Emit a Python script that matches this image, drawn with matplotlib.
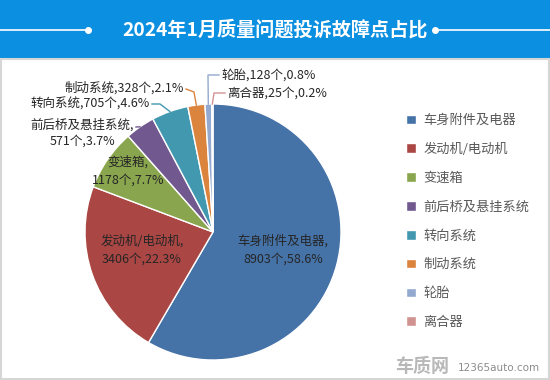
import matplotlib
matplotlib.use("Agg")
import matplotlib.pyplot as plt
from matplotlib.patches import Rectangle
import numpy as np

plt.rcParams['font.family'] = ['Noto Sans CJK SC', 'DejaVu Sans']

# data
categories = ["车身附件及电器", "发动机/电动机", "变速箱", "前后桥及悬挂系统",
              "转向系统", "制动系统", "轮胎", "离合器"]
counts = [8903, 3406, 1178, 571, 705, 328, 128, 25]
percents = ["58.6%", "22.3%", "7.7%", "3.7%", "4.6%", "2.1%", "0.8%", "0.2%"]
colors = ["#4572A7", "#AA4643", "#89A54E", "#71588F",
          "#4198AF", "#DB843D", "#93A9CF", "#D19392"]

W, H = 550, 380
fig = plt.figure(figsize=(5.5, 3.8), dpi=100)
fig.patch.set_facecolor("white")

# header bar and frame
fig.patches.append(Rectangle((0, 1 - 58 / H), 1, 58 / H, transform=fig.transFigure,
                             facecolor="#0b8fe0", edgecolor="none", zorder=0))
fig.patches.append(Rectangle((0.5 / W, 1.5 / H), (W - 2) / W, (H - 60) / H,
                             transform=fig.transFigure, facecolor="none",
                             edgecolor="#d6d6d6", lw=1.5, zorder=0))
ty = 1 - 30 / H
fig.add_artist(plt.Line2D([0, 88 / W], [ty, ty], color="white", lw=1.2))
fig.add_artist(plt.Line2D([435 / W, 1], [ty, ty], color="white", lw=1.2))
fig.add_artist(plt.Line2D([88 / W], [ty], marker="o", ms=4, color="white"))
fig.add_artist(plt.Line2D([435 / W], [ty], marker="o", ms=4, color="white"))
fig.text(0.5, ty, "2024年1月质量问题投诉故障点占比", color="white",
         fontsize=13.8, fontweight="bold", ha="center", va="center")

# pie: center (213, 232) px, radius 128 px
cx, cy, r = 213, 232, 128
ax = fig.add_axes([(cx - r) / W, 1 - (cy + r) / H, 2 * r / W, 2 * r / H])
wedges, _ = ax.pie(counts, colors=colors, startangle=90, counterclock=False,
                   radius=1, wedgeprops=dict(edgecolor="white", linewidth=1))
ax.set_xlim(-1, 1)
ax.set_ylim(-1, 1)
ax.set_aspect("equal")
ax.axis("off")

def px(x, y):
    return (x - cx) / r, (cy - y) / r

labels = [f"{c},\n{n}个,{p}" for c, n, p in zip(categories, counts, percents)]
txt_color = "#262626"

# inside labels
inside = {0: (283, 250), 1: (142, 250), 2: (128, 171)}
for i, (x, y) in inside.items():
    ax.text(*px(x, y), labels[i], ha="center", va="center", fontsize=9,
            color=txt_color, linespacing=1.45)

# front/rear axle label (two lines)
ax.text(*px(82, 133), labels[3], ha="center", va="center", fontsize=9,
        color=txt_color, linespacing=1.3, clip_on=False)

# single line labels outside
single = {4: (150, 104, "right"), 5: (184, 88, "right"),
          6: (221, 75, "left"), 7: (227, 93, "left")}
for i, (x, y, ha) in single.items():
    ax.text(*px(x, y), f"{categories[i]},{counts[i]}个,{percents[i]}",
            ha=ha, va="center", fontsize=9, color=txt_color, clip_on=False)

# leader lines from text to wedge edge at mid angle
leaders = {3: [(136, 127)], 4: [(152, 104), (160, 104)],
           5: [(186, 89), (194, 92)], 6: [(219, 75), (208, 75)],
           7: [(225, 93), (214, 93)]}
for i, pts in leaders.items():
    w = wedges[i]
    mid = np.deg2rad((w.theta1 + w.theta2) / 2)
    xs = [px(*p)[0] for p in pts] + [np.cos(mid)]
    ys = [px(*p)[1] for p in pts] + [np.sin(mid)]
    ax.plot(xs, ys, color=colors[i], lw=1, clip_on=False)

# legend
fig.legend(wedges, categories, loc="upper left",
           bbox_to_anchor=(406 / W, 1 - 114 / H), frameon=False, fontsize=9.5,
           labelcolor="#595959", handlelength=0.75, handleheight=0.75,
           handletextpad=0.55, labelspacing=1.2, borderpad=0, borderaxespad=0)

# watermark
fig.text(395 / W, 1 - 366 / H, "车质网", fontsize=13, fontweight="bold",
         color="#b8b8b8", ha="left", va="center")
fig.text(458 / W, 1 - 368 / H, "12365auto.com", fontsize=7.5,
         color="#8c8c8c", ha="left", va="center", family="DejaVu Sans")

fig.savefig("out.png", dpi=100)
